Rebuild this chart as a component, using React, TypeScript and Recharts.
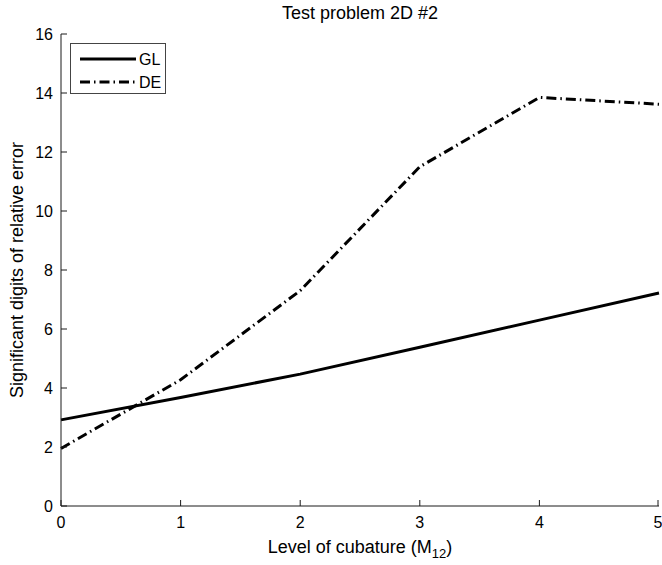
import { LineChart, Line, XAxis, YAxis, Legend } from 'recharts';

// cubature level vs significant digits
const levels = [0, 1, 2, 3, 4, 5];
const glDigits = [2.92, 3.68, 4.47, 5.38, 6.3, 7.22];
const deDigits = [1.95, 4.28, 7.3, 11.5, 13.85, 13.62];
const xTicks = [0, 1, 2, 3, 4, 5];
const yTicks = [0, 2, 4, 6, 8, 10, 12, 14, 16];

const FONT = '"Liberation Sans", Arial, Helvetica, sans-serif';
const INK = '#1a1a1a';
const DASH_DOT = '10 4 1.5 4';
const FS = 16; // tick labels
const LFS = 18; // title and axis labels

const data = levels.map((lvl, i) => ({ lvl, gl: glDigits[i], de: deDigits[i] }));

function BottomTick({ x, y, payload }: any) {
  return (
    <g>
      <line x1={x} y1={y} x2={x} y2={y - 6} stroke={INK} strokeWidth={1} />
      <text x={x} y={y + 22} textAnchor="middle" fontSize={FS} fontFamily={FONT} fill="#000">
        {payload.value}
      </text>
    </g>
  );
}

function TopTick({ x, y }: any) {
  return <line x1={x} y1={y} x2={x} y2={y + 6} stroke={INK} strokeWidth={1} />;
}

function LeftTick({ x, y, payload }: any) {
  return (
    <g>
      <line x1={x} y1={y} x2={x + 6} y2={y} stroke={INK} strokeWidth={1} />
      <text x={x - 8} y={y + 6} textAnchor="end" fontSize={FS} fontFamily={FONT} fill="#000">
        {payload.value}
      </text>
    </g>
  );
}

function RightTick({ x, y }: any) {
  return <line x1={x} y1={y} x2={x - 6} y2={y} stroke={INK} strokeWidth={1} />;
}

function XTitle({ viewBox }: any) {
  const cx = viewBox.x + viewBox.width / 2;
  return (
    <text x={cx} y={553} textAnchor="middle" fontSize={LFS} fontFamily={FONT} fill="#000">
      <tspan>Level of cubature (M</tspan>
      <tspan fontSize={13} dy={5}>12</tspan>
      <tspan dy={-5}>)</tspan>
    </text>
  );
}

function YTitle({ viewBox }: any) {
  const cy = viewBox.y + viewBox.height / 2;
  return (
    <text
      x={23}
      y={cy}
      transform={`rotate(-90 23 ${cy})`}
      textAnchor="middle"
      fontSize={LFS}
      fontFamily={FONT}
      fill="#000"
    >
      Significant digits of relative error
    </text>
  );
}

function LegendBox() {
  return (
    <svg width={96} height={51} style={{ display: 'block' }}>
      <rect x={0.5} y={0.5} width={95} height={50} fill="#fff" stroke="#444" strokeWidth={1} />
      <line x1={10} y1={16} x2={66} y2={16} stroke="#000" strokeWidth={3} />
      <text x={69} y={22} fontSize={FS} fontFamily={FONT}>GL</text>
      <line x1={10} y1={39} x2={66} y2={39} stroke="#000" strokeWidth={3} strokeDasharray={DASH_DOT} />
      <text x={69} y={45} fontSize={FS} fontFamily={FONT}>DE</text>
    </svg>
  );
}

export default function App() {
  return (
    <div style={{ position: 'absolute', left: 0, top: 0, width: 662, height: 565, background: '#fff' }}>
      <LineChart width={662} height={565} data={data} margin={{ top: 34, right: 3, bottom: 0, left: 0 }}>
        <text x={360} y={19} textAnchor="middle" fontSize={LFS} fontFamily={FONT} fill="#000">
          Test problem 2D #2
        </text>
        <XAxis
          xAxisId="b"
          dataKey="lvl"
          type="number"
          domain={[0, 5]}
          ticks={xTicks}
          height={59}
          tickSize={0}
          tickMargin={0}
          tickLine={false}
          axisLine={{ stroke: INK }}
          tick={<BottomTick />}
          label={<XTitle />}
        />
        <XAxis
          xAxisId="t"
          orientation="top"
          dataKey="lvl"
          type="number"
          domain={[0, 5]}
          ticks={xTicks}
          height={0}
          tickSize={0}
          tickMargin={0}
          tickLine={false}
          axisLine={{ stroke: INK }}
          tick={<TopTick />}
        />
        <YAxis
          yAxisId="l"
          type="number"
          domain={[0, 16]}
          ticks={yTicks}
          width={61}
          tickSize={0}
          tickMargin={0}
          tickLine={false}
          axisLine={{ stroke: INK }}
          tick={<LeftTick />}
          label={<YTitle />}
        />
        <YAxis
          yAxisId="r"
          orientation="right"
          type="number"
          domain={[0, 16]}
          ticks={yTicks}
          width={0}
          tickSize={0}
          tickMargin={0}
          tickLine={false}
          axisLine={{ stroke: INK }}
          tick={<RightTick />}
        />
        <Legend
          layout="horizontal"
          align="center"
          verticalAlign="middle"
          content={() => <LegendBox />}
          wrapperStyle={{ position: 'absolute', left: 70, top: 43, width: 96, height: 51 }}
        />
        <Line
          xAxisId="b"
          yAxisId="l"
          type="linear"
          dataKey="gl"
          name="GL"
          stroke="#000"
          strokeWidth={3}
          dot={false}
          isAnimationActive={false}
        />
        <Line
          xAxisId="b"
          yAxisId="l"
          type="linear"
          dataKey="de"
          name="DE"
          stroke="#000"
          strokeWidth={3}
          strokeDasharray={DASH_DOT}
          dot={false}
          isAnimationActive={false}
        />
      </LineChart>
    </div>
  );
}
